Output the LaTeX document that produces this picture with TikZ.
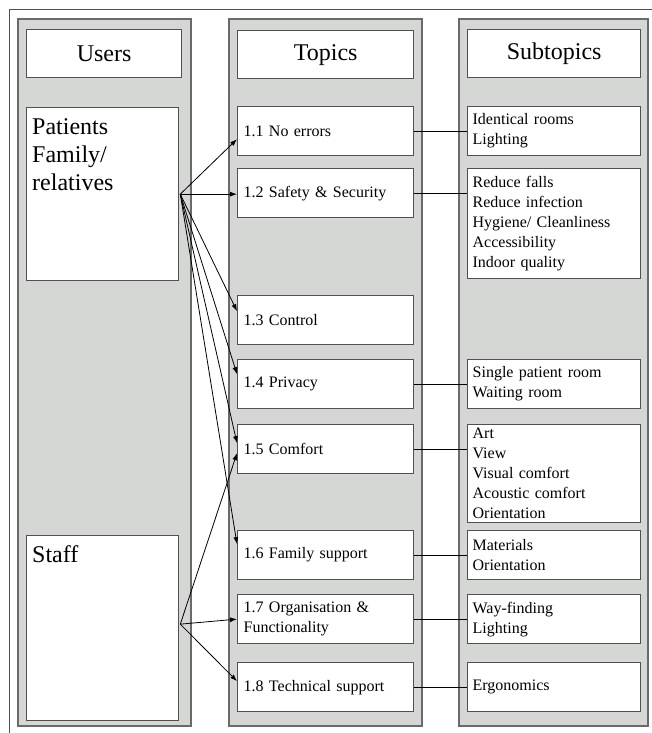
\documentclass[tikz,border=0pt]{standalone}
\usepackage{fontspec}
\setmainfont{Liberation Serif}
\usetikzlibrary{arrows.meta,calc}
\definecolor{panelgray}{RGB}{212,215,212}
\definecolor{edgegray}{RGB}{80,80,80}

\begin{document}
\begin{tikzpicture}[x=1pt,y=-1pt,
  panel/.style={draw=edgegray!85, line width=1.4pt, fill=panelgray},
  box/.style={draw=edgegray, line width=1.3pt, fill=white, rectangle,
    anchor=north west, inner ysep=0pt},
  header/.style={box, minimum height=48pt, inner xsep=0pt,
    font=\fontsize{24}{28}\selectfont},
  topicbox/.style={box, minimum width=176pt, minimum height=49pt,
    inner xsep=6pt, text width=164pt, align=left,
    font=\fontsize{16}{20}\selectfont},
  subbox/.style={box, minimum width=173pt, inner xsep=5pt,
    text width=163pt, align=left, font=\fontsize{16}{20}\selectfont},
  userbox/.style={box, minimum width=152pt, inner sep=0pt},
  usertext/.style={anchor=north west, inner sep=0pt, align=left,
    font=\fontsize{24}{28}\selectfont},
  arr/.style={-{Latex[length=7pt,width=5pt]}, line width=0.8pt, black},
  link/.style={line width=0.8pt, black}]

\useasboundingbox (0,0) rectangle (652,733);

% outer frame
\draw[edgegray, line width=0.8pt] (652,9) -- (9,9) -- (9,733);

% column panels
\draw[panel] (18,19) rectangle (191,726);
\draw[panel] (229,19) rectangle (422,726);
\draw[panel] (459,19) rectangle (648,726);

% headers
\node[header, minimum width=155pt] (hu) at (26,29) {Users};
\node[header, minimum width=176pt] (ht) at (237,30) {Topics};
\node[header, minimum width=173pt] (hs) at (467,29) {Subtopics};

% user groups
\node[userbox, minimum height=173pt] (pat) at (26,107) {};
\node[usertext] (patt) at (32,118) {Patients\\Family/\\relatives};
\node[userbox, minimum height=185pt] (staff) at (26,535) {};
\node[usertext] (stafft) at (32,545) {Staff};

% topics
\node[topicbox] (t1) at (237,106) {1.1 No errors};
\node[topicbox] (t2) at (237,168) {1.2 Safety \& Security};
\node[topicbox] (t3) at (237,295) {1.3 Control};
\node[topicbox] (t4) at (237,359) {1.4 Privacy};
\node[topicbox] (t5) at (237,424) {1.5 Comfort};
\node[topicbox] (t6) at (237,530) {1.6 Family support};
\node[topicbox] (t7) at (237,594) {1.7 Organisation \&\\Functionality};
\node[topicbox] (t8) at (237,662) {1.8 Technical support};

% subtopics
\node[subbox, minimum height=49pt] (s1) at (467,106) {Identical rooms\\Lighting};
\node[subbox, minimum height=110pt] (s2) at (467,168) {Reduce falls\\Reduce infection\\Hygiene/ Cleanliness\\Accessibility\\Indoor quality};
\node[subbox, minimum height=49pt] (s4) at (467,359) {Single patient room\\Waiting room};
\node[subbox, minimum height=98pt] (s5) at (467,424) {Art\\View\\Visual comfort\\Acoustic comfort\\Orientation};
\node[subbox, minimum height=49pt] (s6) at (467,530) {Materials\\Orientation};
\node[subbox, minimum height=49pt] (s7) at (467,594) {Way-finding\\Lighting};
\node[subbox, minimum height=49pt] (s8) at (467,662) {Ergonomics};

% arrow sources
\coordinate (pu) at ($(pat.east)+(1,0)$);
\coordinate (su) at ($(staff.east)+(1,-4)$);

% users to topics
\draw[arr] (pu) -- ($(t1.west)+(0,8)$);
\draw[arr] (pu) -- ($(t2.west)+(0,1)$);
\draw[arr] (pu) -- ($(t3.west)+(0,-9)$);
\draw[arr] (pu) -- ($(t4.west)+(0,-10)$);
\draw[arr] (pu) -- ($(t5.west)+(0,-6)$);
\draw[arr] (pu) -- ($(t6.west)+(0,-11)$);
\draw[arr] (su) -- ($(t5.west)+(0,4)$);
\draw[arr] (su) -- (t7.west);
\draw[arr] (su) -- ($(t8.west)+(0,-6)$);

% topics to subtopics
\draw[link] (t1.east) -- (t1.east -| s1.west);
\draw[link] (t2.east) -- (t2.east -| s2.west);
\draw[link] (t4.east) -- (t4.east -| s4.west);
\draw[link] (t5.east) -- (t5.east -| s5.west);
\draw[link] (t6.east) -- (t6.east -| s6.west);
\draw[link] (t7.east) -- (t7.east -| s7.west);
\draw[link] (t8.east) -- (t8.east -| s8.west);
\end{tikzpicture}
\end{document}
